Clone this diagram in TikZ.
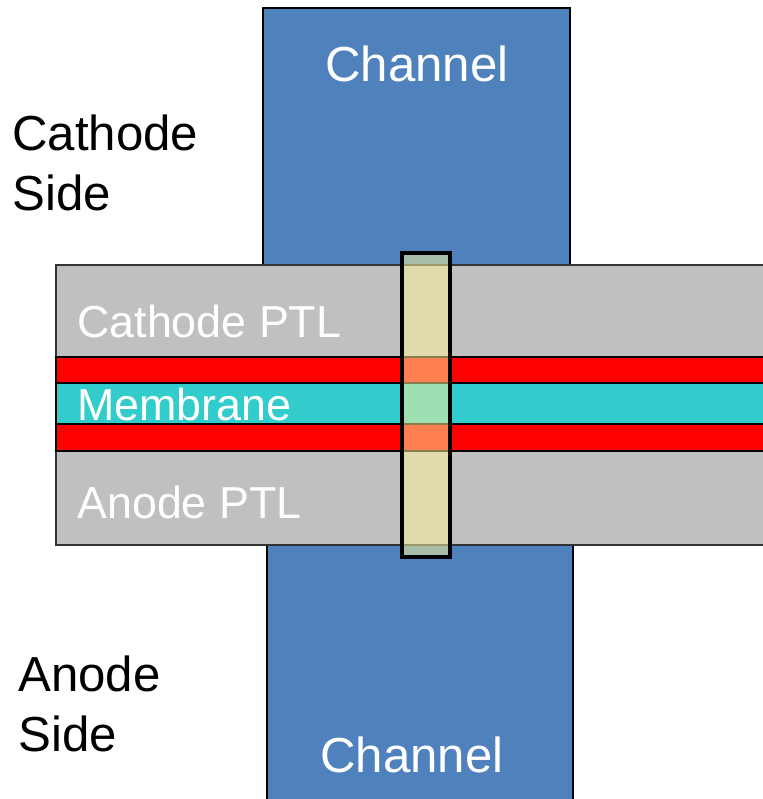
\documentclass[tikz,border=0pt]{standalone}
\usepackage{fontspec}
\setmainfont{Liberation Sans}
\usetikzlibrary{positioning}
\definecolor{chanblue}{RGB}{79,129,189}
\definecolor{ptlgray}{RGB}{192,192,192}
\definecolor{catred}{RGB}{255,0,0}
\definecolor{memcyan}{RGB}{51,204,204}
\definecolor{winyellow}{RGB}{255,245,155}

\begin{document}
\begin{tikzpicture}[
    x=0.02cm, y=-0.02cm,
    channel/.style={draw=black, line width=0.8pt, fill=chanblue},
    ptl/.style={draw=black!80, line width=0.8pt, fill=ptlgray},
    catlayer/.style={draw=black, line width=0.8pt, fill=catred},
    memlayer/.style={draw=black, line width=0.8pt, fill=memcyan},
    window/.style={draw=black, line width=2.8pt, fill=winyellow, fill opacity=0.52},
    sidelabel/.style={font=\fontsize{28}{34}\selectfont, inner sep=0pt,
                      anchor=base west, align=left},
    chanlabel/.style={font=\fontsize{28}{34}\selectfont, inner sep=0pt,
                      anchor=base, text=white},
    layerlabel/.style={font=\fontsize{25.5}{30}\selectfont, inner sep=0pt,
                       anchor=base west, text=white}
  ]
  \useasboundingbox (0,0) rectangle (763,799);

  %% Flow channels
  \draw[channel] (263,8) rectangle (570,265);
  \draw[channel] (267,545) rectangle (573,810);

  %% Layer stack (PTLs, catalyst layers, membrane)
  \draw[ptl] (56,265) rectangle (775,545);
  \draw[catlayer] (56,357) rectangle (775,383);
  \draw[memlayer] (56,383) rectangle (775,424);
  \draw[catlayer] (56,424) rectangle (775,451);

  %% Overlap window
  \draw[window] (402,253) rectangle (450,557);

  %% Labels (base of a two-line label is its last line)
  \node[chanlabel] (chantop) at (417,81) {Channel};
  \node[chanlabel] (chanbot) at (412,772) {Channel};
  \node[sidelabel] (cathside) at (12,210) {Cathode\\Side};
  \node[sidelabel] (anodeside) at (18,751) {Anode\\Side};
  \node[layerlabel] (cathptl) at (77,337) {Cathode PTL};
  \node[layerlabel] (membrane) at (77,420) {Membrane};
  \node[layerlabel] (anodeptl) at (77,518) {Anode PTL};

\end{tikzpicture}
\end{document}
